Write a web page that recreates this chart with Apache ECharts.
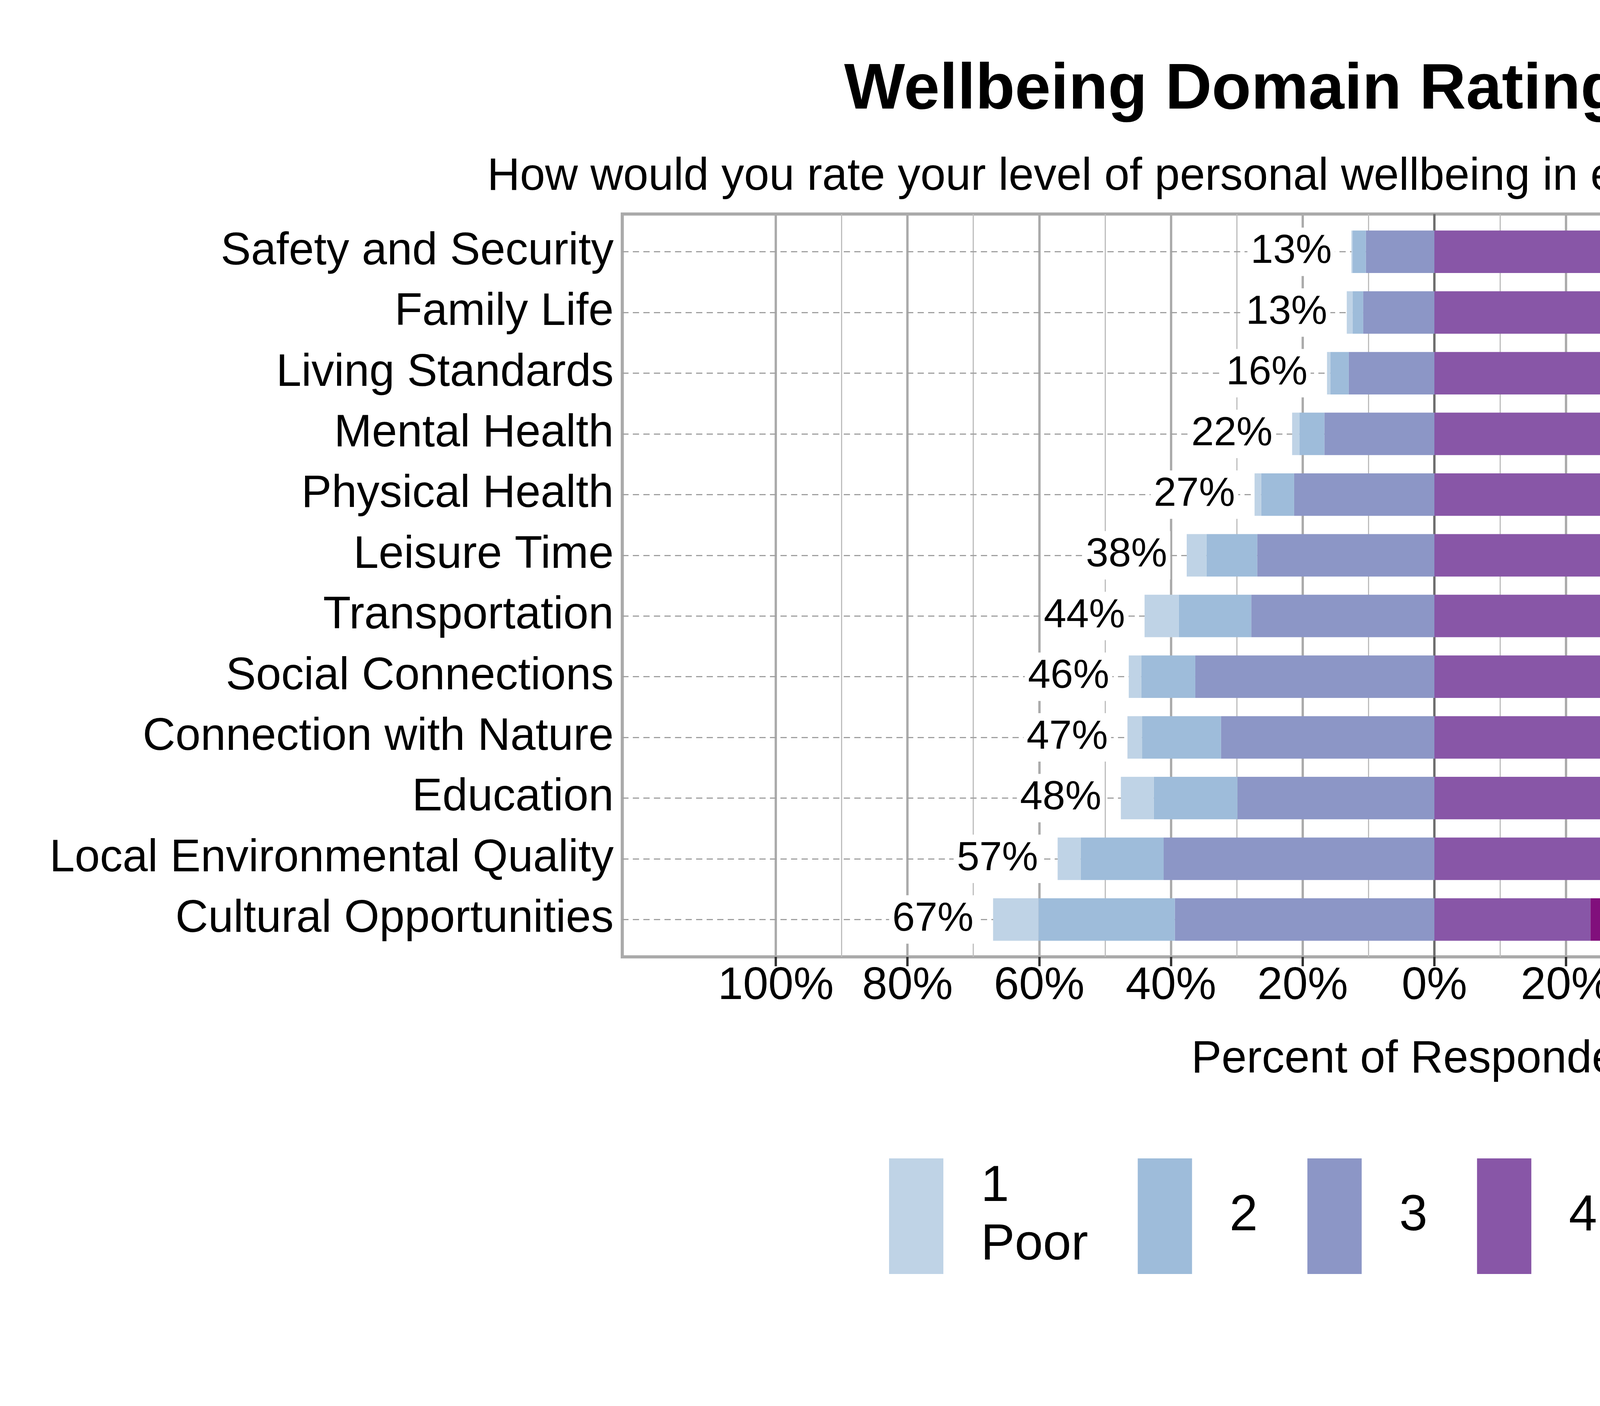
<!DOCTYPE html>
<html lang="en">
<head>
<meta charset="UTF-8">
<title>Wellbeing Domain Ratings in Bluffdale</title>
<script src="https://cdn.jsdelivr.net/npm/echarts@6.0.0/dist/echarts.min.js"></script>
<style>
    * { margin: 0; padding: 0; }
    body { background: #fff; }
    #main { width: 6000px; height: 3600px; }
</style>
</head>
<body>
<div id="main"></div>
<script>
// rows, top to bottom
var categories = ['Safety and Security', 'Family Life', 'Living Standards', 'Mental Health',
    'Physical Health', 'Leisure Time', 'Transportation', 'Social Connections',
    'Connection with Nature', 'Education', 'Local Environmental Quality', 'Cultural Opportunities'];

// percent of respondents per rating
var rating1 = [0.2, 0.9, 0.5, 1.1, 1.0, 3.0, 5.2, 1.9, 2.2, 5.0, 3.5, 6.9];
var rating2 = [2.0, 1.6, 2.8, 3.8, 5.0, 7.7, 11.0, 8.2, 12.0, 12.7, 12.6, 20.7];
var rating3 = [10.4, 10.8, 13.0, 16.7, 21.3, 26.9, 27.8, 36.3, 32.4, 29.9, 41.1, 39.4];
var rating4 = [41.5, 34.6, 43.5, 49.9, 47.2, 35.5, 28.3, 31.3, 33.9, 30.7, 31.0, 23.7];
var rating5 = [45.9, 52.2, 40.3, 28.5, 25.5, 26.9, 27.8, 22.3, 19.5, 21.7, 11.8, 9.4];

var ratingNames = ['1', '2', '3', '4', '5'];
var ratingLabels = ['1\nPoor', '2', '3', '4', '5\nExcellent'];
var ratingColors = ['#bfd3e6', '#9ebcda', '#8c96c6', '#8856a7', '#810f7c'];

var gridValues = [-100, -90, -80, -70, -60, -50, -40, -30, -20, -10, 0,
    10, 20, 30, 40, 50, 60, 70, 80, 90, 100];

var font = "'Liberation Sans', Arial, sans-serif";

function total(arrs, i) {
    var s = 0;
    for (var k = 0; k < arrs.length; k++) s += arrs[k][i];
    return Math.round(Number(s.toFixed(1)));
}

function neg(arr) {
    return arr.map(function (v) { return -v; });
}

var labelBox = {
    show: true,
    fontSize: 104,
    color: '#000',
    fontFamily: font,
    backgroundColor: '#fff',
    padding: [10, 8],
    distance: 42
};

function barSeries(idx, data, label) {
    return {
        name: ratingNames[idx],
        type: 'bar',
        stack: 'all',
        xAxisIndex: 1,
        yAxisIndex: 1,
        barCategoryGap: '30%',
        itemStyle: { color: ratingColors[idx] },
        label: label || { show: false },
        data: data,
        z: 2
    };
}

var gridLineData = gridValues.map(function (v) {
    var style;
    if (v === 0) style = { color: '#6e6e6e', width: 6, type: 'solid' };
    else if (v % 20 === 0) style = { color: '#ababab', width: 6, type: 'solid' };
    else style = { color: '#bdbdbd', width: 3, type: 'solid' };
    return { xAxis: v, lineStyle: style };
});

var rowLineData = categories.map(function (c) {
    return { yAxis: c };
});

var chart = echarts.init(document.getElementById('main'));

chart.setOption({
    animation: false,
    backgroundColor: '#fff',
    textStyle: { fontFamily: font },
    title: [{
        text: 'Wellbeing Domain Ratings in Bluffdale',
        left: 3672,
        top: 150,
        padding: 0,
        textAlign: 'center',
        textStyle: { fontSize: 165, fontWeight: 'bold', color: '#000', fontFamily: font }
    }, {
        text: 'How would you rate your level of personal wellbeing in each of the following categories?',
        left: 5761,
        top: 396,
        padding: 0,
        textAlign: 'right',
        textStyle: { fontSize: 116, fontWeight: 'normal', color: '#000', fontFamily: font }
    }],
    legend: {
        data: ratingNames,
        left: 2276,
        top: 2964,
        padding: 0,
        icon: 'rect',
        itemWidth: 139,
        itemHeight: 296,
        itemGap: 127,
        formatter: function (name) {
            return ratingLabels[ratingNames.indexOf(name)];
        },
        textStyle: {
            fontSize: 130,
            lineHeight: 150,
            color: '#000',
            fontFamily: font,
            padding: [0, 0, 0, 91]
        }
    },
    grid: [{
        // frame
        left: 1593, right: 249, top: 548, bottom: 1150,
        show: true, borderColor: '#aaaaaa', borderWidth: 8
    }, {
        // bars
        left: 1593, right: 249, top: 567, bottom: 1168
    }, {
        // -100% .. 100% span, for ticks and labels
        left: 1986, right: 642, top: 548, bottom: 1150
    }],
    xAxis: [{
        gridIndex: 0,
        type: 'value',
        min: -123.3,
        max: 123.3,
        show: false,
        splitLine: { show: false }
    }, {
        gridIndex: 1,
        type: 'value',
        min: -123.3,
        max: 123.3,
        show: false,
        splitLine: { show: false }
    }, {
        gridIndex: 2,
        type: 'value',
        position: 'bottom',
        min: -100,
        max: 100,
        interval: 20,
        axisLine: { show: true, onZero: false, lineStyle: { color: '#aaaaaa', width: 8 } },
        splitLine: { show: false },
        axisTick: {
            show: true,
            inside: false,
            length: 24,
            lineStyle: { color: '#333333', width: 6 }
        },
        axisLabel: {
            formatter: function (v) { return Math.abs(v) + '%'; },
            fontSize: 116,
            margin: 18,
            color: '#000',
            fontFamily: font
        },
        name: 'Percent of Respondents',
        nameLocation: 'middle',
        nameGap: 206,
        nameTextStyle: { fontSize: 116, color: '#000', fontFamily: font }
    }],
    yAxis: [{
        gridIndex: 0,
        type: 'value',
        min: 0,
        max: 1,
        show: false,
        splitLine: { show: false }
    }, {
        gridIndex: 1,
        type: 'category',
        inverse: true,
        data: categories,
        axisLine: { show: false },
        axisTick: { show: false },
        splitLine: { show: false },
        axisLabel: { fontSize: 116, margin: 22, color: '#000', fontFamily: font }
    }, {
        gridIndex: 2,
        type: 'value',
        min: 0,
        max: 1,
        show: false,
        splitLine: { show: false }
    }],
    series: [{
        // vertical grid lines across the whole frame
        name: 'grid',
        type: 'line',
        xAxisIndex: 0,
        yAxisIndex: 0,
        data: [],
        markLine: {
            silent: true,
            z: 1,
            symbol: ['none', 'none'],
            label: { show: false },
            data: gridLineData
        }
    }, {
        // dashed line through each row
        name: 'rows',
        type: 'line',
        xAxisIndex: 1,
        yAxisIndex: 1,
        data: [],
        markLine: {
            silent: true,
            z: 1,
            symbol: ['none', 'none'],
            label: { show: false },
            lineStyle: { color: '#a0a0a0', width: 3, type: [16, 11] },
            data: rowLineData
        }
    },
    barSeries(2, neg(rating3)),
    barSeries(1, neg(rating2)),
    barSeries(0, neg(rating1), Object.assign({}, labelBox, {
        position: 'left',
        formatter: function (p) {
            return total([rating1, rating2, rating3], p.dataIndex) + '%';
        }
    })),
    barSeries(3, rating4),
    barSeries(4, rating5, Object.assign({}, labelBox, {
        position: 'right',
        formatter: function (p) {
            return total([rating4, rating5], p.dataIndex) + '%';
        }
    }))]
});
</script>
</body>
</html>
